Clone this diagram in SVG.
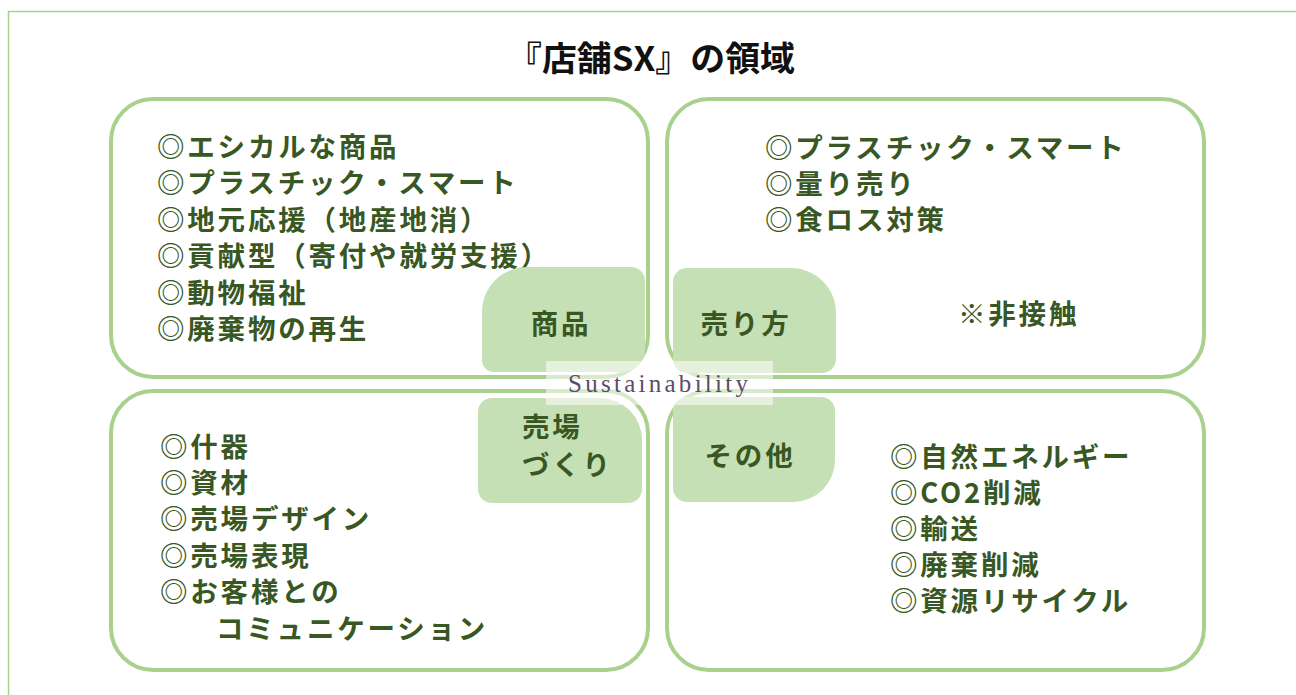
<svg xmlns="http://www.w3.org/2000/svg" width="1296" height="695" viewBox="0 0 1296 695">
<style>
.frame{fill:none;stroke:#a9d18e;stroke-width:1.5}
.quad{fill:#ffffff;stroke:#a9d18e;stroke-width:4}
.lab{fill:#c5e0b4}
.t{font-family:"Noto Sans CJK JP","Liberation Sans",sans-serif;font-weight:bold;font-size:27.5px;letter-spacing:2.8px;fill:#385723}
.c{text-anchor:middle}
.title{font-family:"Noto Sans CJK JP","Liberation Sans",sans-serif;font-weight:bold;font-size:34px;fill:#111111;text-anchor:middle}
.sus{font-family:"Liberation Serif",serif;font-size:25px;fill:#5a4e66;text-anchor:middle}
</style>
<rect width="1296" height="695" fill="#ffffff"/>
<rect class="frame" x="8.5" y="11.5" width="1300" height="700"/>
<g id="title"><text class="title" x="651" y="71" textLength="288" lengthAdjust="spacingAndGlyphs">『店舗SX』の領域</text></g>

<g id="quad-products">
<rect class="quad" x="111" y="99" width="537" height="278" rx="42"/>
<text class="t" x="157" y="156.5">◎エシカルな商品</text>
<text class="t" x="157" y="193">◎プラスチック・スマート</text>
<text class="t" x="157" y="229.5">◎地元応援（地産地消）</text>
<text class="t" x="157" y="266">◎貢献型（寄付や就労支援）</text>
<text class="t" x="157" y="302.5">◎動物福祉</text>
<text class="t" x="157" y="339">◎廃棄物の再生</text>
</g>
<g id="quad-selling">
<rect class="quad" x="667" y="99" width="537" height="278" rx="42"/>
<text class="t" x="765" y="157.5">◎プラスチック・スマート</text>
<text class="t" x="765" y="193.5">◎量り売り</text>
<text class="t" x="765" y="229.5">◎食ロス対策</text>
<text class="t" x="958" y="323.5">※非接触</text>
</g>
<g id="quad-store">
<rect class="quad" x="111" y="391" width="537" height="279" rx="42"/>
<text class="t" x="160" y="457">◎什器</text>
<text class="t" x="160" y="493">◎資材</text>
<text class="t" x="160" y="529">◎売場デザイン</text>
<text class="t" x="160" y="565.5">◎売場表現</text>
<text class="t" x="160" y="602">◎お客様との</text>
<text class="t" x="216" y="638.5">コミュニケーション</text>
</g>
<g id="quad-other">
<rect class="quad" x="667" y="391" width="537" height="279" rx="42"/>
<text class="t" x="890" y="466.5">◎自然エネルギー</text>
<text class="t" x="890" y="502.5">◎CO2削減</text>
<text class="t" x="890" y="538.5">◎輸送</text>
<text class="t" x="890" y="574.5">◎廃棄削減</text>
<text class="t" x="890" y="611">◎資源リサイクル</text>
</g>

<g id="label-products">
<path class="lab" d="M527,267 H631 A14,14 0 0 1 645,281 V350 A22,22 0 0 1 623,372 H494 A12,12 0 0 1 482,360 V312 A45,45 0 0 1 527,267 Z"/>
<text class="t c" x="561" y="333.5">商品</text>
</g>
<g id="label-selling">
<path class="lab" d="M687,268 H791 A45,45 0 0 1 836,313 V359 A14,14 0 0 1 822,373 H687 A14,14 0 0 1 673,359 V282 A14,14 0 0 1 687,268 Z"/>
<text class="t c" x="746" y="333.5">売り方</text>
</g>
<g id="label-store">
<path class="lab" d="M492,398 H600 A42,42 0 0 1 642,440 V489 A14,14 0 0 1 628,503 H492 A14,14 0 0 1 478,489 V412 A14,14 0 0 1 492,398 Z"/>
<text class="t" x="522" y="437">売場</text>
<text class="t" x="522" y="475">づくり</text>
</g>
<g id="label-other">
<path class="lab" d="M687,397 H821 A14,14 0 0 1 835,411 V460 A42,42 0 0 1 793,502 H687 A14,14 0 0 1 673,488 V411 A14,14 0 0 1 687,397 Z"/>
<text class="t c" x="750" y="465.5">その他</text>
</g>

<g id="center-sustainability">
<rect x="546" y="361" width="227" height="44" fill="#ffffff" fill-opacity="0.55"/>
<text class="sus" x="658" y="392" textLength="180" lengthAdjust="spacing">Sustainability</text>
</g>
</svg>
